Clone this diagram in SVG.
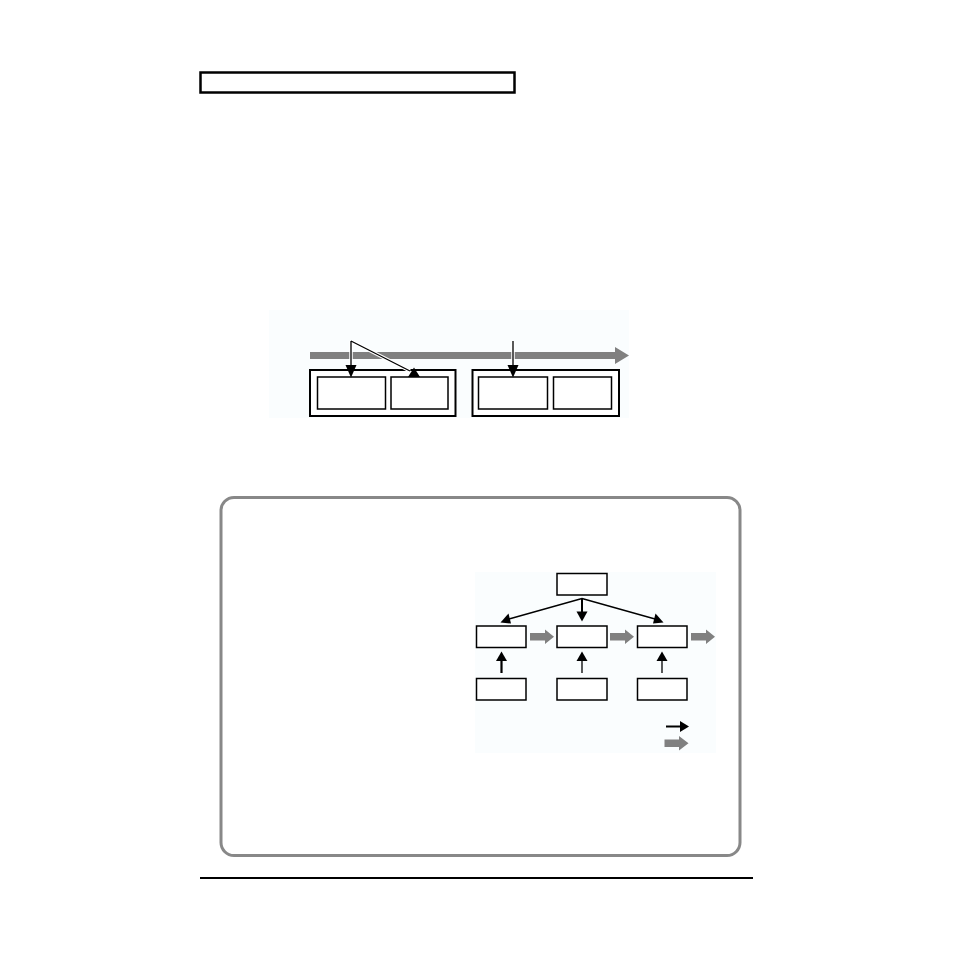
<svg xmlns="http://www.w3.org/2000/svg" width="954" height="954" viewBox="0 0 954 954">
<style>
.bg{fill:#fafdfe;stroke:none}
.box{fill:#ffffff;stroke:#000;stroke-width:1.5}
.obox{fill:#ffffff;stroke:#000;stroke-width:2}
.ln{stroke:#000;fill:none;stroke-width:1.3}
.lnw{stroke:#fff;fill:none;stroke-width:3.5}
.gray{fill:#808080;stroke:none}
.head{fill:#000;stroke:none}
</style>
<rect width="954" height="954" fill="#ffffff"/>
<g id="title-bar"><rect x="200.5" y="72.5" width="314" height="20" fill="#fff" stroke="#000" stroke-width="2.5"/></g>

<g id="diagram1">
<rect class="bg" x="269" y="310" width="360" height="108"/>
<g id="timeline"><polygon class="gray" points="310,352 615,352 615,347 629,355.5 615,364 615,359 310,359"/></g>
<g id="group1"><rect class="obox" x="310" y="370" width="145.5" height="46"/>
<g id="box1a"><rect class="box" x="317.5" y="377" width="68" height="32"/></g>
<g id="box1b"><rect class="box" x="391" y="377" width="57" height="32"/></g></g>
<g id="group2"><rect class="obox" x="472.5" y="370" width="146.5" height="46"/>
<g id="box2a"><rect class="box" x="478.5" y="377" width="69" height="32"/></g>
<g id="box2b"><rect class="box" x="553.5" y="377" width="58" height="32"/></g></g>
<g id="connectors1">
<path class="lnw" d="M351,341 L351,366 M351,341 L410,371 M513,341 L513,366"/>
<path class="ln" d="M351,341 L351,366 M351,341 L410,371 M513,341 L513,366"/>
<polygon class="head" points="345.5,365 356.5,365 351,377.5"/>
<polygon class="head" points="507.5,365 518.5,365 513,377.5"/>
<polygon class="head" points="408,377 420,377 414,367.5"/>
</g>
</g>

<g id="panel">
<rect x="221" y="497.5" width="519" height="358" rx="13" ry="13" fill="#fff" stroke="#888" stroke-width="3"/>
<rect class="bg" x="475" y="572" width="241" height="181"/>
<g id="top"><rect class="box" x="557" y="573.5" width="50" height="21.5"/></g>
<g id="midA"><rect class="box" x="476.5" y="626" width="49.5" height="21.5"/></g>
<g id="midB"><rect class="box" x="557" y="626" width="50" height="21.5"/></g>
<g id="midC"><rect class="box" x="637.5" y="626" width="49.5" height="21.5"/></g>
<g id="botA"><rect class="box" x="476.5" y="678.5" width="49.5" height="21.5"/></g>
<g id="botB"><rect class="box" x="557" y="678.5" width="50" height="21.5"/></g>
<g id="botC"><rect class="box" x="637.5" y="678.5" width="49.5" height="21.5"/></g>
<g id="connectors2">
<path class="ln" d="M582,598.5 L509,619 M582,598.5 L655,619"/>
<polygon class="head" points="500.5,622.5 508.5,613.5 511,623.5"/>
<polygon class="head" points="663.5,622.5 653,623.5 655.5,613.5"/>
<path d="M582,598.5 L582,613" stroke="#000" stroke-width="2" fill="none"/>
<polygon class="head" points="576.5,611.5 587.5,611.5 582,621.5"/>
<path d="M501.5,673 L501.5,660" stroke="#000" stroke-width="2.2" fill="none"/>
<polygon class="head" points="496,661 507,661 501.5,651.5"/>
<path d="M582,673 L582,660" stroke="#000" stroke-width="1.3" fill="none"/>
<polygon class="head" points="576.5,661 587.5,661 582,651.5"/>
<path d="M662,673 L662,660" stroke="#000" stroke-width="1.3" fill="none"/>
<polygon class="head" points="656.5,661 667.5,661 662,651.5"/>
<polygon class="gray" points="530,633 545,633 545,629.5 554,636.7 545,644 545,640.5 530,640.5"/>
<polygon class="gray" points="610,633 625,633 625,629.5 634,636.7 625,644 625,640.5 610,640.5"/>
<polygon class="gray" points="691,633 706,633 706,629.5 715,636.7 706,644 706,640.5 691,640.5"/>
</g>
<g id="legend">
<path d="M666,726.5 L681,726.5" stroke="#000" stroke-width="2" fill="none"/>
<polygon class="head" points="680,721 689,726.5 680,732"/>
<polygon class="gray" points="664.5,739.5 679,739.5 679,736 688.5,743.3 679,750.5 679,747 664.5,747"/>
</g>
</g>

<g id="footer-rule"><path d="M200,878 L753,878" stroke="#000" stroke-width="2"/></g>
</svg>
